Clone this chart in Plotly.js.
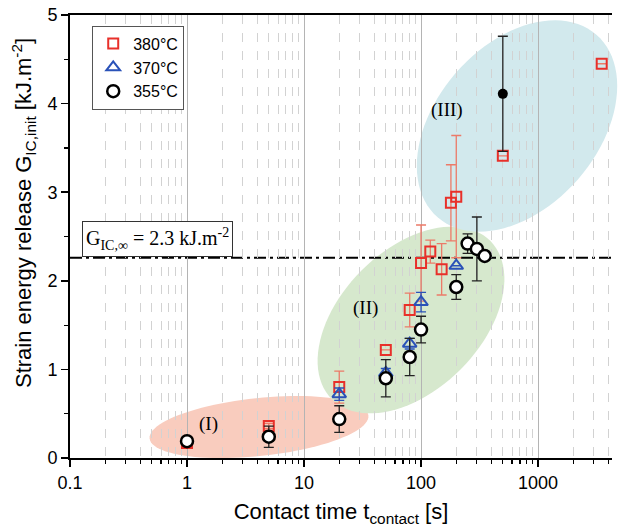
<!DOCTYPE html>
<html><head><meta charset="utf-8">
<script src="https://cdn.plot.ly/plotly-3.0.1.min.js"></script>
<style>body{margin:0;background:#fff}</style>
</head><body><div id="chart" style="width:618px;height:530px"></div>
<script>
// ---- data ----
const t380 = [1, 5, 20, 50, 80, 100, 120, 150, 180, 200, 500, 3500];
const g380 = [0.17, 0.36, 0.80, 1.22, 1.67, 2.20, 2.33, 2.13, 2.88, 2.95, 3.41, 4.45];
const e380 = [0, 0.03, 0.18, 0, 0.19, 0.43, 0.13, 0.29, 0.43, 0.69, 0, 0];
const t370 = [20, 50, 80, 100, 200];
const g370 = [0.72, 0.96, 1.29, 1.76, 2.17];
const e370 = [0.07, 0.05, 0.06, 0.11, 0];
const t355 = [1, 5, 20, 50, 80, 100, 200, 250, 300, 350];
const g355 = [0.19, 0.24, 0.44, 0.90, 1.14, 1.45, 1.93, 2.42, 2.36, 2.28];
const e355 = [0, 0.12, 0.15, 0.21, 0.21, 0.15, 0.14, 0.11, 0.36, 0];
const tFilled = [500];
const gFilled = [4.11];
const eFilled = [0.65];
const gInf = 2.26;
const gInfLabel = '2.3';
const seriesNames = ['380°C', '370°C', '355°C'];
const xTickVals = [0.1, 1, 10, 100, 1000];
const xTickText = ['0.1', '1', '10', '100', '1000'];
const yTickVals = [0, 1, 2, 3, 4, 5];
const regionLabels = ['(I)', '(II)', '(III)'];
const xTitle = 'Contact time t<sub>contact</sub> [s]';
const yTitle = 'Strain energy release G<sub>IC,init</sub> [kJ.m<sup>-2</sup>]';

// ---- layout helpers ----
const W = 618, H = 530;
const M = {l: 70, r: 6, t: 15, b: 72};
const PW = W - M.l - M.r, PH = H - M.t - M.b;
function px2paper(px, py) { return [(px - M.l) / PW, (H - M.b - py) / PH]; }
function ellipse(cx, cy, a, b, angDeg) {
  const f = angDeg * Math.PI / 180, pts = [];
  for (let i = 0; i < 96; i++) {
    const t = 2 * Math.PI * i / 96;
    const x = cx + a * Math.cos(t) * Math.cos(f) - b * Math.sin(t) * Math.sin(f);
    const y = cy + a * Math.cos(t) * Math.sin(f) + b * Math.sin(t) * Math.cos(f);
    const p = px2paper(x, y);
    pts.push(p[0].toFixed(4) + ',' + p[1].toFixed(4));
  }
  return 'M' + pts.join('L') + 'Z';
}
const minorVals = [];
for (let d = -1; d <= 3; d++) for (let k = 2; k <= 9; k++) minorVals.push(k * Math.pow(10, d));

const sans = 'Liberation Sans, Arial, sans-serif';
const serif = 'Liberation Serif, Times New Roman, serif';

const traces = [
  {x: t380, y: g380, name: seriesNames[0], mode: 'markers', type: 'scatter',
   marker: {symbol: 'square-open', size: 10, color: '#e8302a', line: {width: 2, color: '#e8302a'}},
   error_y: {type: 'data', array: e380, visible: true, color: '#ec7a68', thickness: 1.3, width: 5}},
  {x: t370, y: g370, name: seriesNames[1], mode: 'markers', type: 'scatter',
   marker: {symbol: 'triangle-up-open', size: 12, color: '#2a52b8', line: {width: 2, color: '#2a52b8'}},
   error_y: {type: 'data', array: e370, visible: true, color: '#2a52b8', thickness: 1.3, width: 5}},
  {x: t355, y: g355, name: seriesNames[2], mode: 'markers', type: 'scatter',
   marker: {symbol: 'circle', size: 12, color: '#ffffff', line: {width: 2.5, color: '#000'}},
   error_y: {type: 'data', array: e355, visible: true, color: '#222', thickness: 1.3, width: 5}},
  {x: tFilled, y: gFilled, showlegend: false, mode: 'markers', type: 'scatter',
   marker: {symbol: 'circle', size: 10, color: '#000'},
   error_y: {type: 'data', array: eFilled, visible: true, color: '#222', thickness: 1.3, width: 5}}
];

const lbl = [px2paper(208, 424), px2paper(365, 308), px2paper(447, 110)];
const gpos = px2paper(157, 239);
const ytpos = px2paper(23, 213);
const lblFont = {family: serif, size: 19, color: '#000'};

const layout = {
  width: W, height: H, margin: M,
  paper_bgcolor: '#fff', plot_bgcolor: '#fff',
  showlegend: true,
  legend: {x: 0.041, y: 0.976, xanchor: 'left', yanchor: 'top', bgcolor: '#fff',
           bordercolor: '#555', borderwidth: 1, font: {family: sans, size: 16, color: '#000'},
           tracegroupgap: 0, itemwidth: 30},
  xaxis: {type: 'log', range: [-1, 3.632], tickmode: 'array', tickvals: xTickVals, ticktext: xTickText,
          showline: true, linecolor: '#000', linewidth: 2, mirror: true,
          ticks: 'outside', ticklen: 7, tickwidth: 1.5, tickcolor: '#000',
          showgrid: true, gridcolor: '#b4b4b4', gridwidth: 1, zeroline: false,
          tickfont: {family: sans, size: 18, color: '#000'},
          minor: {tickmode: 'array', tickvals: minorVals, ticks: 'outside', ticklen: 4, tickwidth: 1.2,
                  tickcolor: '#000', showgrid: true, gridcolor: '#d2d2d2', griddash: 'dash', gridwidth: 1},
          title: {text: xTitle, font: {family: sans, size: 22, color: '#000'}, standoff: 12}},
  yaxis: {range: [0, 5], tickmode: 'array', tickvals: yTickVals,
          showline: true, linecolor: '#000', linewidth: 2, mirror: false,
          ticks: 'outside', ticklen: 7, tickwidth: 1.5, tickcolor: '#000',
          showgrid: false, zeroline: false,
          tickfont: {family: sans, size: 18, color: '#000'},
          minor: {dtick: 0.5, ticks: 'outside', ticklen: 4, tickwidth: 1.2, tickcolor: '#000', showgrid: false}},
  shapes: [
    {type: 'path', xref: 'paper', yref: 'paper', layer: 'below', path: ellipse(259, 427, 110, 29, -6),
     fillcolor: 'rgb(249,204,190)', line: {width: 0}},
    {type: 'path', xref: 'paper', yref: 'paper', layer: 'below', path: ellipse(411, 320, 112, 70, -45),
     fillcolor: 'rgb(214,232,205)', line: {width: 0}},
    {type: 'path', xref: 'paper', yref: 'paper', layer: 'below', path: ellipse(517, 126, 121, 81, -49),
     fillcolor: 'rgb(210,233,237)', line: {width: 0}},
    {type: 'line', xref: 'paper', yref: 'y', x0: 0, x1: 1, y0: gInf, y1: gInf, layer: 'between',
     line: {color: '#000', width: 2, dash: '12px,4px,3px,4px'}}
  ],
  annotations: [
    {xref: 'paper', yref: 'paper', x: lbl[0][0], y: lbl[0][1], xanchor: 'center', yanchor: 'middle',
     text: regionLabels[0], showarrow: false, font: lblFont},
    {xref: 'paper', yref: 'paper', x: lbl[1][0], y: lbl[1][1], xanchor: 'center', yanchor: 'middle',
     text: regionLabels[1], showarrow: false, font: lblFont},
    {xref: 'paper', yref: 'paper', x: lbl[2][0], y: lbl[2][1], xanchor: 'center', yanchor: 'middle',
     text: regionLabels[2], showarrow: false, font: lblFont},
    {xref: 'paper', yref: 'paper', x: gpos[0], y: gpos[1], xanchor: 'center', yanchor: 'middle', showarrow: false,
     text: 'G<sub>IC,∞</sub> = ' + gInfLabel + ' kJ.m<sup>-2</sup>',
     font: {family: serif, size: 20, color: '#000'}, bgcolor: '#fff', bordercolor: '#333', borderwidth: 1, borderpad: 3},
    {xref: 'paper', yref: 'paper', x: ytpos[0], y: ytpos[1], xanchor: 'center', yanchor: 'middle', showarrow: false,
     textangle: -90, text: yTitle, font: {family: sans, size: 22, color: '#000'}}
  ]
};
Plotly.newPlot('chart', traces, layout, {displayModeBar: false, staticPlot: true});
</script>
</body></html>
